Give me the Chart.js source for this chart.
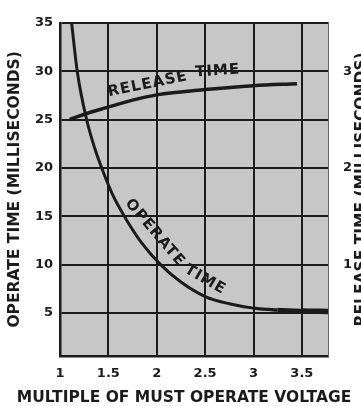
<!doctype html>
<html lang="en">
<head>
<meta charset="utf-8">
<title>Operate and release time vs. multiple of must operate voltage</title>
<style>
  * { margin: 0; padding: 0; }
  body { background: #fff; overflow: hidden; }
  .chartBox { width: 361px; height: 406px; position: relative; }
</style>
</head>
<body>
<div class="chartBox"><canvas id="relayChart"></canvas></div>

<script src="https://cdn.jsdelivr.net/npm/chart.js@4.4.0/dist/chart.umd.min.js"></script>
<script>
// operate time curve (ms) against multiple of must operate voltage
const operateVoltage = [1.12, 1.178, 1.275, 1.36, 1.446, 1.55, 1.677, 1.84, 2.04, 2.25, 2.5, 2.75, 3.0, 3.25, 3.5, 3.77];
const operateMs = [35, 30, 25, 22.0, 19.6, 17.1, 14.8, 12.3, 10.0, 8.2, 6.7, 5.95, 5.5, 5.3, 5.2, 5.15];

// release time curve (ms)
const releaseVoltage = [1.10, 1.3, 1.47, 1.75, 2.0, 2.5, 3.0, 3.45];
const releaseMs = [25.0, 25.7, 26.2, 27.0, 27.55, 28.1, 28.5, 28.7];

// tick values for each axis
const voltageTicks = [1, 1.5, 2, 2.5, 3, 3.5];
const operateTicks = [5, 10, 15, 20, 25, 30, 35];
const releaseTicks = [1, 2, 3];

const INK = '#1b1b1b';
const FONT = "'DejaVu Sans', sans-serif";

const toPoints = (xs, ys) => xs.map((x, i) => ({ x: x, y: ys[i] }));
const fixedTicks = values => scale => { scale.ticks = values.map(v => ({ value: v })); };

// grey paper behind the grid
const paper = {
  id: 'paper',
  beforeDraw(chart) {
    const { ctx, chartArea: { left, top, width, height } } = chart;
    ctx.save();
    ctx.fillStyle = '#c7c7c7';
    ctx.fillRect(left, top, width, height);
    ctx.restore();
  }
};

// curve names written along the lines, plus the axis titles
const lettering = {
  id: 'lettering',
  afterDraw(chart) {
    const { ctx, chartArea: { top, bottom }, scales: { x, y } } = chart;
    const words = [
      { text: 'RELEASE', v: 1.907, t: 28.64, deg: -11.5 },
      { text: 'TIME', v: 2.63, t: 30.0, deg: -4 },
      { text: 'OPERATE', v: 1.98, t: 13.3, deg: 49.5 },
      { text: 'TIME', v: 2.5, t: 8.43, deg: 30 }
    ];
    ctx.save();
    ctx.fillStyle = INK;
    ctx.textAlign = 'center';
    ctx.textBaseline = 'middle';
    ctx.font = 'bold 15px ' + FONT;
    ctx.letterSpacing = '1px';
    words.forEach(w => {
      ctx.save();
      ctx.translate(x.getPixelForValue(w.v), y.getPixelForValue(w.t));
      ctx.rotate(w.deg * Math.PI / 180);
      ctx.fillText(w.text, 0, 0);
      ctx.restore();
    });
    ctx.letterSpacing = '0px';

    const midY = (top + bottom) / 2;
    ctx.font = 'bold 15.5px ' + FONT;
    ctx.fillText('MULTIPLE OF MUST OPERATE VOLTAGE', chart.width / 2 + 3.5, chart.height - 8);

    ctx.save();
    ctx.translate(15, midY);
    ctx.rotate(-Math.PI / 2);
    ctx.fillText('OPERATE TIME (MILLISECONDS)', 0, 0);
    ctx.restore();

    // right-hand title runs off the edge of the page
    ctx.save();
    ctx.translate(chart.width + 0.5, midY);
    ctx.rotate(-Math.PI / 2);
    ctx.fillText('RELEASE TIME (MILLISECONDS)', 0, 0);
    ctx.restore();
    ctx.restore();
  }
};

Chart.defaults.font.family = FONT;
Chart.defaults.font.weight = 'bold';
Chart.defaults.color = INK;

// the operate line gets heavier toward its right end
const tailWidth = [3.5, 4.5, 5.5];

const config = {
  type: 'line',
  data: {
    datasets: [
      {
        label: 'Operate time',
        data: toPoints(operateVoltage, operateMs),
        borderColor: INK,
        borderWidth: 3,
        cubicInterpolationMode: 'monotone',
        pointRadius: 0,
        segment: {
          borderWidth: c => {
            const k = c.p0DataIndex - (operateVoltage.length - 1 - tailWidth.length);
            return k >= 0 ? tailWidth[k] : 3;
          }
        }
      },
      {
        label: 'Release time',
        data: toPoints(releaseVoltage, releaseMs),
        borderColor: INK,
        borderWidth: 3.5,
        cubicInterpolationMode: 'monotone',
        pointRadius: 0
      }
    ]
  },
  options: {
    responsive: true,
    maintainAspectRatio: false,
    animation: false,
    layout: { padding: { top: 15 } },
    plugins: {
      legend: { display: false },
      tooltip: { enabled: false }
    },
    scales: {
      x: {
        type: 'linear',
        min: 1,
        max: 3.77,
        afterBuildTicks: fixedTicks(voltageTicks),
        afterFit: s => { s.height = 50; },
        ticks: { font: { size: 13 }, padding: 10, maxRotation: 0, callback: v => String(v) },
        grid: { color: INK, lineWidth: 2, drawTicks: false },
        border: { color: INK, width: 2.5 }
      },
      y: {
        min: 0.55,
        max: 35,
        afterBuildTicks: fixedTicks(operateTicks),
        afterFit: s => { s.width = 60; },
        ticks: { font: { size: 13 }, padding: 7 },
        grid: { color: INK, lineWidth: 2, drawTicks: false },
        border: { color: INK, width: 2.5 }
      },
      y2: {
        position: 'right',
        min: 0.055,
        max: 3.5,
        afterBuildTicks: fixedTicks(releaseTicks),
        afterFit: s => { s.width = 33; },
        ticks: { font: { size: 13 }, padding: 15 },
        grid: { display: false, drawTicks: false },
        border: { color: '#666', width: 1 }
      }
    }
  },
  plugins: [paper, lettering]
};

const relayChart = new Chart(document.getElementById('relayChart'), config);
</script>
</body>
</html>
